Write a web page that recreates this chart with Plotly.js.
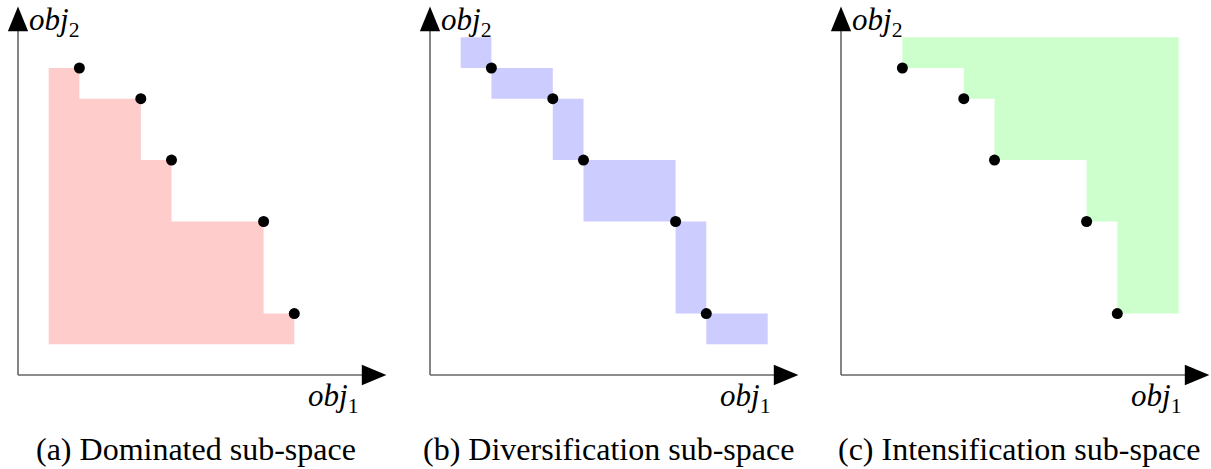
<!DOCTYPE html>
<html>
<head>
<meta charset="utf-8">
<script src="https://cdn.plot.ly/plotly-3.0.1.min.js"></script>
<style>
html,body{margin:0;padding:0;background:#fff;}
#chart{width:1211px;height:469px;}
</style>
</head>
<body>
<div id="chart"></div>
<script>
// Pareto front points (objective space units)
const frontX = [2, 4, 5, 8, 9];
const frontY = [10, 9, 7, 5, 2];
// Reference bounds of the box
const boundLow = 1;
const boundHigh = 11;
const axisLength = 12;
const captions = ["(a) Dominated sub-space", "(b) Diversification sub-space", "(c) Intensification sub-space"];
const fillColors = ["#ffcccc", "#ccccff", "#ccffcc"];

const W = 1211, H = 469, U = 30.7;
const originsPx = [18, 430, 841];
const originYPx = 375;

const traces = [];
const axes = ["x", "x2", "x3"];

// (a) dominated staircase polygon
(function(){
  const xs = [boundLow], ys = [frontY[0]];
  for (let i = 0; i < frontX.length; i++) {
    xs.push(frontX[i]); ys.push(frontY[i]);
    if (i + 1 < frontX.length) { xs.push(frontX[i]); ys.push(frontY[i+1]); }
  }
  xs.push(frontX[frontX.length-1], boundLow, boundLow);
  ys.push(boundLow, boundLow, frontY[0]);
  traces.push({x: xs, y: ys, xaxis: "x", yaxis: "y", type: "scatter", mode: "none", fill: "toself", fillcolor: fillColors[0], hoverinfo: "skip"});
})();

// (b) diversification rectangles
(function(){
  const ex = [boundLow].concat(frontX, [boundHigh]);
  const ey = [boundHigh].concat(frontY, [boundLow]);
  for (let i = 1; i < ex.length; i++) {
    const x0 = ex[i-1], x1 = ex[i], y0 = ey[i], y1 = ey[i-1];
    traces.push({x: [x0, x1, x1, x0, x0], y: [y0, y0, y1, y1, y0], xaxis: "x2", yaxis: "y", type: "scatter", mode: "none", fill: "toself", fillcolor: fillColors[1], hoverinfo: "skip"});
  }
})();

// (c) intensification region
(function(){
  const n = frontX.length;
  const xs = [frontX[0], boundHigh, boundHigh], ys = [boundHigh, boundHigh, frontY[n-1]];
  for (let i = n - 1; i >= 0; i--) {
    xs.push(frontX[i]); ys.push(frontY[i]);
    if (i > 0) { xs.push(frontX[i]); ys.push(frontY[i-1]); }
  }
  xs.push(frontX[0]); ys.push(boundHigh);
  traces.push({x: xs, y: ys, xaxis: "x3", yaxis: "y", type: "scatter", mode: "none", fill: "toself", fillcolor: fillColors[2], hoverinfo: "skip"});
})();

// axes with arrows + points
const headLen = 0.8, headHalf = 0.33;
axes.forEach(function(ax){
  traces.push({x: [0, axisLength - 0.3], y: [0, 0], xaxis: ax, yaxis: "y", type: "scatter", mode: "lines", line: {color: "#666", width: 1.6}, hoverinfo: "skip"});
  traces.push({x: [0, 0], y: [0, axisLength - 0.3], xaxis: ax, yaxis: "y", type: "scatter", mode: "lines", line: {color: "#666", width: 1.6}, hoverinfo: "skip"});
  traces.push({x: [axisLength, axisLength - headLen, axisLength - headLen, axisLength], y: [0, headHalf, -headHalf, 0], xaxis: ax, yaxis: "y", type: "scatter", mode: "none", fill: "toself", fillcolor: "#000", hoverinfo: "skip"});
  traces.push({x: [0, headHalf, -headHalf, 0], y: [axisLength, axisLength - headLen, axisLength - headLen, axisLength], xaxis: ax, yaxis: "y", type: "scatter", mode: "none", fill: "toself", fillcolor: "#000", hoverinfo: "skip"});
  traces.push({x: frontX, y: frontY, xaxis: ax, yaxis: "y", type: "scatter", mode: "markers", marker: {color: "#000", size: 11}, hoverinfo: "skip"});
});

const layout = {
  width: W, height: H,
  margin: {l: 0, r: 0, t: 0, b: 0},
  paper_bgcolor: "#fff", plot_bgcolor: "rgba(0,0,0,0)",
  showlegend: false,
  font: {family: "Liberation Serif", color: "#000"},
  yaxis: {range: [-(H - originYPx) / U, originYPx / U], visible: false},
  annotations: []
};
function px(ox, dx) { return (ox + dx * U) / W; }
function py(dy) { return (H - originYPx + dy * U) / H; }
originsPx.forEach(function(ox, i){
  const key = i === 0 ? "xaxis" : "xaxis" + (i + 1);
  layout[key] = {range: [-ox / U, (W - ox) / U], visible: false, anchor: "y"};
  layout.annotations.push({xref: "paper", yref: "paper", x: px(ox, 0.28), y: py(11.5), text: "<i>obj</i><sub>2</sub>", showarrow: false, xanchor: "left", yanchor: "middle", font: {family: "Liberation Serif", size: 31}});
  layout.annotations.push({xref: "paper", yref: "paper", x: px(ox, 11.15), y: py(-0.75), text: "<i>obj</i><sub>1</sub>", showarrow: false, xanchor: "right", yanchor: "middle", font: {family: "Liberation Serif", size: 31}});
  layout.annotations.push({xref: "paper", yref: "paper", x: px(ox, 5.8), y: py(-2.4), text: captions[i], showarrow: false, xanchor: "center", yanchor: "middle", font: {family: "Liberation Serif", size: 32}});
});

Plotly.newPlot("chart", traces, layout, {staticPlot: true});
</script>
</body>
</html>
